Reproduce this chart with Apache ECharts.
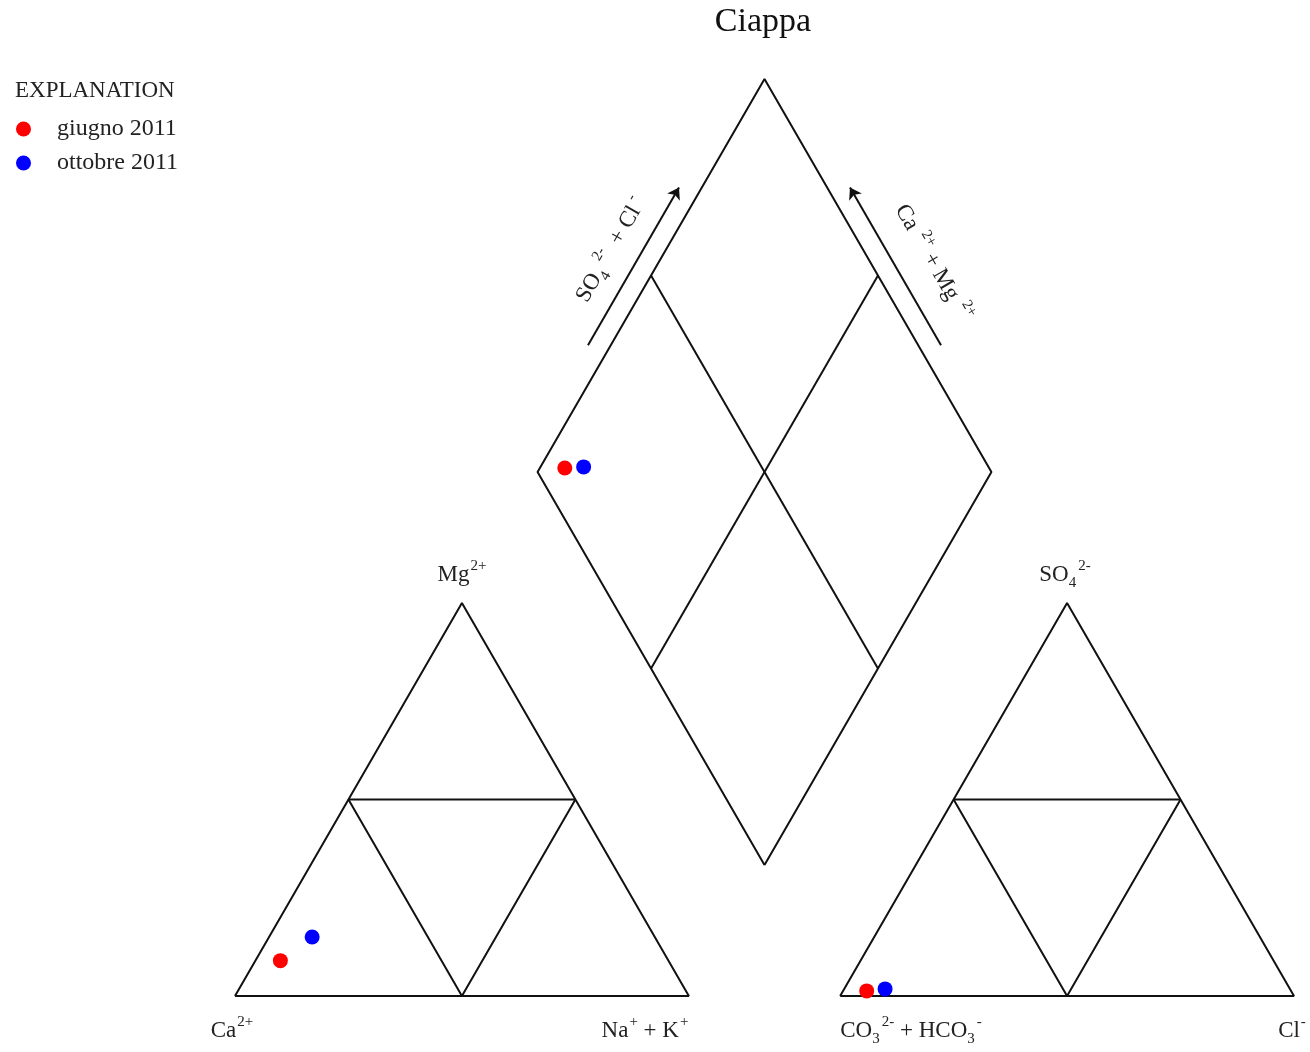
<!DOCTYPE html>
<html>
<head>
<meta charset="utf-8">
<title>Ciappa - Piper diagram</title>
<script src="https://cdn.jsdelivr.net/npm/echarts@6/dist/echarts.min.js"></script>
<style>
  html, body { margin: 0; padding: 0; background: #fff; }
  #chart { width: 1310px; height: 1052px; }
</style>
</head>
<body>
<div id="chart"></div>
<script>
// Sample campaigns
const samples = ['giugno 2011', 'ottobre 2011'];

// Cations, % meq/l
const caPct  = [85.5, 75.5];
const mgPct  = [9.0, 15.0];
const naKPct = [5.5, 9.5];

// Anions, % meq/l
const hco3Pct = [93.5, 89.2];
const so4Pct  = [1.3, 1.8];
const clPct   = [5.2, 9.0];

// Piper geometry: triangle side 100, gap between triangles 33.33
const SIDE = 100;
const GAP = SIDE / 3;
const OFF = SIDE + GAP;
const SIN60 = Math.sqrt(3) / 2;
const BOTTOM = [SIDE + GAP / 2, (GAP / 2) * Math.sqrt(3)];
const XMAX = OFF + SIDE;
const YMAX = BOTTOM[1] + SIDE * 2 * SIN60;

function cationXY(ca, mg, na) {
  const s = ca + mg + na;
  const m = mg / s * 100, n = na / s * 100;
  return [n + m / 2, m * SIN60];
}
function anionXY(hco3, so4, cl) {
  const s = hco3 + so4 + cl;
  const o = so4 / s * 100, c = cl / s * 100;
  return [OFF + c + o / 2, o * SIN60];
}
function diamondXY(ca, mg, na, hco3, so4, cl) {
  const camg = (ca + mg) / (ca + mg + na) * 100;
  const socl = (so4 + cl) / (hco3 + so4 + cl) * 100;
  return [BOTTOM[0] - camg * 0.5 + socl * 0.5, BOTTOM[1] + (camg + socl) * SIN60];
}

// Frame outlines
const H = SIDE * SIN60;
const frames = [
  // cation triangle
  [[0, 0], [SIDE, 0], [SIDE / 2, H], [0, 0]],
  [[SIDE / 4, H / 2], [SIDE * 3 / 4, H / 2]],
  [[SIDE / 4, H / 2], [SIDE / 2, 0], [SIDE * 3 / 4, H / 2]],
  // anion triangle
  [[OFF, 0], [OFF + SIDE, 0], [OFF + SIDE / 2, H], [OFF, 0]],
  [[OFF + SIDE / 4, H / 2], [OFF + SIDE * 3 / 4, H / 2]],
  [[OFF + SIDE / 4, H / 2], [OFF + SIDE / 2, 0], [OFF + SIDE * 3 / 4, H / 2]],
  // diamond
  [BOTTOM, [BOTTOM[0] - SIDE / 2, BOTTOM[1] + H], [BOTTOM[0], BOTTOM[1] + 2 * H],
   [BOTTOM[0] + SIDE / 2, BOTTOM[1] + H], BOTTOM],
  [[BOTTOM[0] - SIDE / 4, BOTTOM[1] + H * 1.5], [BOTTOM[0] + SIDE / 4, BOTTOM[1] + H / 2]],
  [[BOTTOM[0] + SIDE / 4, BOTTOM[1] + H * 1.5], [BOTTOM[0] - SIDE / 4, BOTTOM[1] + H / 2]]
];

// Direction arrows running parallel to the upper diamond edges
function edgeArrow(side) {
  const left = [BOTTOM[0] - SIDE / 2, BOTTOM[1] + H];
  const top = [BOTTOM[0], BOTTOM[1] + 2 * H];
  const d = 4.35, t0 = 0.2975, t1 = 0.6986;
  const pt = (t) => {
    const x = left[0] + (top[0] - left[0]) * t - d * SIN60;
    const y = left[1] + (top[1] - left[1]) * t + d * 0.5;
    return side < 0 ? [x, y] : [2 * BOTTOM[0] - x, y];
  };
  return { coords: [pt(t0), pt(t1)] };
}

const colors = ['#ff0000', '#0000ff'];
const pointSeries = samples.map((name, i) => ({
  name,
  type: 'scatter',
  symbol: 'circle',
  symbolSize: 15,
  itemStyle: { color: colors[i], opacity: 1 },
  clip: false,
  z: 5,
  data: [
    cationXY(caPct[i], mgPct[i], naKPct[i]),
    anionXY(hco3Pct[i], so4Pct[i], clPct[i]),
    diamondXY(caPct[i], mgPct[i], naKPct[i], hco3Pct[i], so4Pct[i], clPct[i])
  ]
}));

const frameSeries = frames.map((pts) => ({
  type: 'line',
  data: pts,
  symbol: 'none',
  clip: false,
  silent: true,
  animation: false,
  lineStyle: { color: '#111', width: 2 },
  z: 2
}));

const FONT = '"Liberation Serif", "DejaVu Serif", serif';
const TXT = '#222';
const rich = {
  b: { fontFamily: FONT, fontSize: 23, color: TXT, lineHeight: 32 },
  sup: { fontFamily: FONT, fontSize: 15, color: TXT, verticalAlign: 'top', lineHeight: 32, padding: [0, 0, 0, 1] },
  sub: { fontFamily: FONT, fontSize: 15, color: TXT, verticalAlign: 'bottom', lineHeight: 32, padding: [0, 1, 0, 0] }
};
function label(text, x, y, rotation) {
  return {
    type: 'text', x, y, rotation: rotation || 0, silent: true,
    style: { text, rich, align: 'center', verticalAlign: 'middle', fontFamily: FONT, fontSize: 23, fill: TXT }
  };
}

const chart = echarts.init(document.getElementById('chart'), null, { renderer: 'canvas' });
chart.setOption({
  animation: false,
  backgroundColor: '#fff',
  grid: { left: 235, right: 16, top: 79, bottom: 56 },
  xAxis: { type: 'value', min: 0, max: XMAX, show: false },
  yAxis: { type: 'value', min: 0, max: YMAX, show: false },
  legend: {
    data: samples,
    orient: 'vertical',
    left: 11,
    top: 112,
    icon: 'circle',
    itemWidth: 15,
    itemHeight: 15,
    itemGap: 10,
    itemStyle: { opacity: 1 },
    textStyle: { fontFamily: FONT, fontSize: 24, color: TXT, padding: [0, 0, 0, 21] }
  },
  graphic: [
    { type: 'text', x: 763, y: 22, silent: true,
      style: { text: 'Ciappa', align: 'center', verticalAlign: 'middle', fontFamily: FONT, fontSize: 34, fill: '#111' } },
    { type: 'text', x: 15, y: 91, silent: true,
      style: { text: 'EXPLANATION', align: 'left', verticalAlign: 'middle', fontFamily: FONT, fontSize: 23, fill: TXT } },
    label('{b|Mg}{sup|2+}', 462, 575),
    label('{b|SO}{sub|4}{sup|2-}', 1065, 575),
    label('{b|Ca}{sup|2+}', 232, 1031),
    label('{b|Na}{sup|+}{b| + K}{sup|+}', 645, 1031),
    label('{b|CO}{sub|3}{sup|2-}{b| + HCO}{sub|3}{sup|-}', 911, 1031),
    label('{b|Cl}{sup|-}', 1292, 1031),
    label('{b|SO}{sub|4}{sup| 2-}{b|  + Cl}{sup| -}', 611, 250, Math.PI / 3),
    label('{b|Ca}{sup|  2+}{b| + Mg}{sup|  2+}', 933, 263, -Math.PI / 3)
  ],
  series: [
    ...frameSeries,
    {
      type: 'lines',
      coordinateSystem: 'cartesian2d',
      silent: true,
      symbol: ['none', 'arrow'],
      symbolSize: 11,
      lineStyle: { color: '#111', width: 2, opacity: 1 },
      data: [edgeArrow(-1), edgeArrow(1)],
      z: 3
    },
    ...pointSeries
  ]
});
</script>
</body>
</html>
